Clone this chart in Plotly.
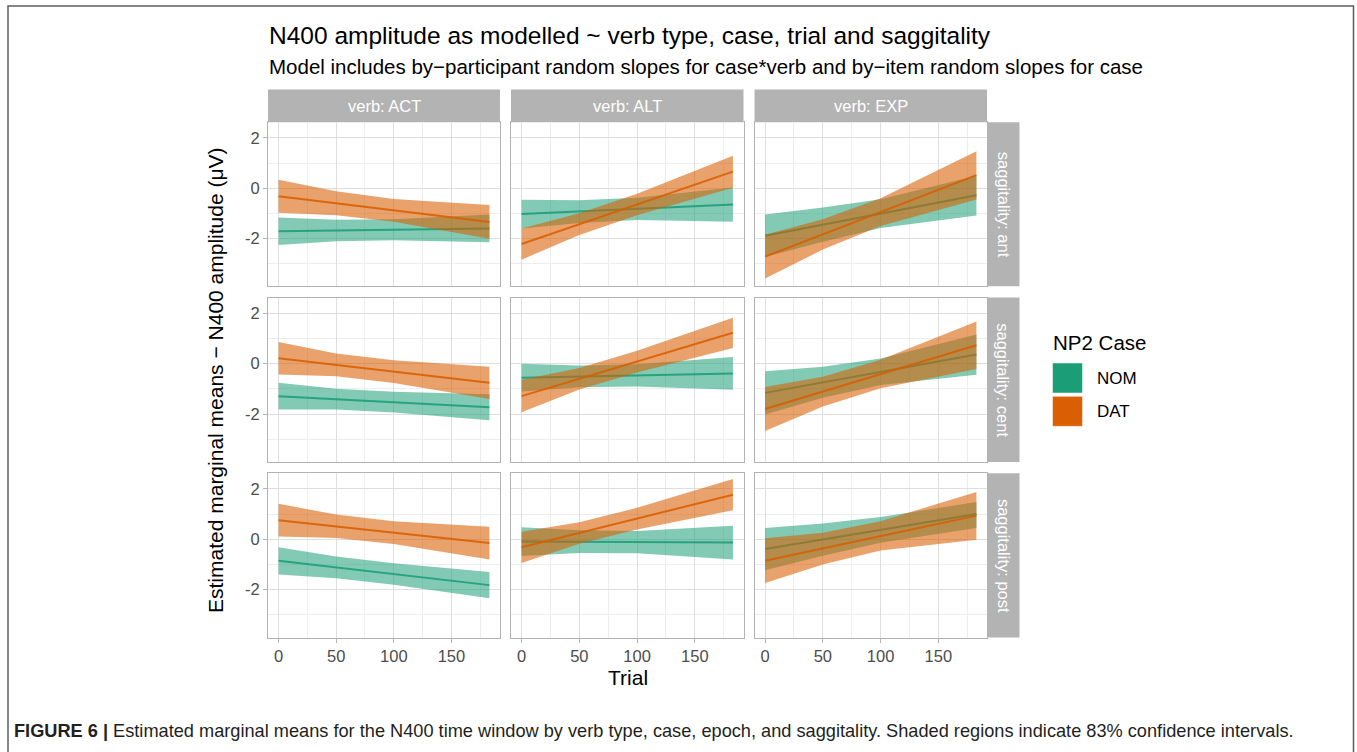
import plotly.graph_objects as go

W, H = 1357, 752

VERBS = ["ACT", "ALT", "EXP"]
SAGG = ["ant", "cent", "post"]
TRIAL = [0, 50, 100, 183]

# panel order: ant(ACT, ALT, EXP), cent(ACT, ALT, EXP), post(ACT, ALT, EXP)
NOM_FIT = [
    [-1.71, -1.68, -1.65, -1.60], [-1.03, -0.93, -0.82, -0.65], [-1.89, -1.45, -1.01, -0.28],
    [-1.29, -1.41, -1.53, -1.73], [-0.56, -0.51, -0.47, -0.39], [-1.16, -0.74, -0.33, 0.36],
    [-0.85, -1.12, -1.38, -1.82], [-0.09, -0.10, -0.11, -0.13], [-0.39, -0.01, 0.37, 1.00],
]
NOM_HI = [
    [-1.16, -1.25, -1.23, -1.05], [-0.46, -0.48, -0.38, 0.03], [-1.05, -0.77, -0.44, 0.50],
    [-0.76, -1.00, -1.12, -1.21], [-0.01, -0.08, -0.03, 0.26], [-0.30, -0.12, 0.20, 1.15],
    [-0.32, -0.68, -0.95, -1.30], [0.48, 0.36, 0.33, 0.54], [0.45, 0.63, 0.88, 1.48],
]
NOM_LO = [
    [-2.26, -2.11, -2.07, -2.15], [-1.60, -1.38, -1.26, -1.33], [-2.73, -2.13, -1.58, -1.09],
    [-1.82, -1.82, -1.94, -2.25], [-1.11, -0.94, -0.91, -1.04], [-2.02, -1.35, -0.85, -0.44],
    [-1.40, -1.55, -1.81, -2.34], [-0.66, -0.54, -0.55, -0.80], [-1.23, -0.65, -0.14, 0.45],
]
DAT_FIT = [
    [-0.32, -0.60, -0.88, -1.34], [-2.22, -1.43, -0.65, 0.66], [-2.72, -1.84, -0.95, 0.52],
    [0.21, -0.06, -0.32, -0.76], [-1.29, -0.60, 0.08, 1.22], [-1.80, -1.11, -0.42, 0.73],
    [0.76, 0.51, 0.26, -0.15], [-0.32, 0.25, 0.82, 1.77], [-0.85, -0.36, 0.13, 0.94],
]
DAT_HI = [
    [0.34, -0.12, -0.43, -0.67], [-1.60, -1.00, -0.22, 1.29], [-1.85, -1.23, -0.40, 1.47],
    [0.86, 0.40, 0.13, -0.12], [-0.64, -0.17, 0.51, 1.82], [-0.93, -0.52, 0.15, 1.67],
    [1.41, 0.98, 0.72, 0.50], [0.30, 0.68, 1.25, 2.39], [0.04, 0.26, 0.72, 1.88],
]
DAT_LO = [
    [-0.98, -1.08, -1.33, -2.01], [-2.84, -1.86, -1.08, 0.02], [-3.59, -2.44, -1.50, -0.45],
    [-0.43, -0.50, -0.77, -1.40], [-1.93, -1.03, -0.35, 0.62], [-2.67, -1.70, -0.98, -0.21],
    [0.11, 0.05, -0.19, -0.80], [-0.94, -0.18, 0.39, 1.15], [-1.74, -1.00, -0.45, -0.02],
]

CASES = ["NOM", "DAT"]
COLORS = {"NOM": "#1B9E77", "DAT": "#D95F02"}
FILLS = {"NOM": "rgba(27,158,119,0.55)", "DAT": "rgba(217,95,2,0.58)"}
SERIES = {"NOM": (NOM_FIT, NOM_LO, NOM_HI), "DAT": (DAT_FIT, DAT_LO, DAT_HI)}

FONT = "Liberation Sans, Arial, Helvetica, sans-serif"

# pixel layout
COL_X = [(268, 500), (511, 743.5), (754.5, 987)]
ROW_Y = [(122.3, 286.3), (297.5, 462), (473.3, 637.5)]


def px(x):
    return x / W


def py(y):
    return 1 - y / H


fig = go.Figure()
layout_axes = {}

for r in range(3):
    for c in range(3):
        k = r * 3 + c
        n = k + 1
        xa = "x" if n == 1 else f"x{n}"
        ya = "y" if n == 1 else f"y{n}"
        for case in CASES:
            fit, lo, hi = SERIES[case]
            fig.add_trace(go.Scatter(
                x=TRIAL + TRIAL[::-1], y=hi[k] + lo[k][::-1],
                fill="toself", fillcolor=FILLS[case], mode="lines",
                line=dict(width=0), hoverinfo="skip", showlegend=False,
                xaxis=xa, yaxis=ya))
            fig.add_trace(go.Scatter(
                x=TRIAL, y=fit[k], mode="lines",
                line=dict(color=COLORS[case], width=2), opacity=0.88,
                showlegend=False, xaxis=xa, yaxis=ya))
        bottom = r == 2
        left = c == 0
        xkey = "xaxis" if n == 1 else f"xaxis{n}"
        ykey = "yaxis" if n == 1 else f"yaxis{n}"
        layout_axes[xkey] = dict(
            domain=[px(COL_X[c][0]), px(COL_X[c][1])], anchor=ya,
            range=[-9.15, 192.15], tickmode="array", tickvals=[0, 50, 100, 150],
            ticktext=["0", "50", "100", "150"],
            showticklabels=bottom, ticks="outside" if bottom else "",
            ticklen=4, tickcolor="#B3B3B3", tickwidth=1,
            tickfont=dict(size=16.5, color="#4D4D4D", family=FONT),
            showgrid=True, gridcolor="#DEDEDE", gridwidth=1,
            minor=dict(tickmode="linear", tick0=25, dtick=50, showgrid=True,
                       gridcolor="#EDEDED", gridwidth=0.6),
            zeroline=False, showline=True, mirror=True,
            linecolor="#B3B3B3", linewidth=1, fixedrange=True)
        layout_axes[ykey] = dict(
            domain=[py(ROW_Y[r][1]), py(ROW_Y[r][0])], anchor=xa,
            range=[-3.9, 2.62], tickmode="array", tickvals=[-2, 0, 2],
            ticktext=["-2", "0", "2"],
            showticklabels=left, ticks="outside" if left else "",
            ticklen=4, tickcolor="#B3B3B3", tickwidth=1,
            tickfont=dict(size=16.5, color="#4D4D4D", family=FONT),
            showgrid=True, gridcolor="#DEDEDE", gridwidth=1,
            minor=dict(tickmode="linear", tick0=-3, dtick=2, showgrid=True,
                       gridcolor="#EDEDED", gridwidth=0.6),
            zeroline=False, showline=True, mirror=True,
            linecolor="#B3B3B3", linewidth=1, fixedrange=True)

shapes = []
annotations = []

# strips
for c, v in enumerate(VERBS):
    x0, x1 = COL_X[c]
    shapes.append(dict(type="rect", xref="paper", yref="paper",
                       x0=px(x0), x1=px(x1), y0=py(122.3), y1=py(89.5),
                       fillcolor="#B3B3B3", line=dict(width=0), layer="below"))
    annotations.append(dict(text=f"verb: {v}", x=px((x0 + x1) / 2), y=py(105.5),
                            xref="paper", yref="paper", showarrow=False,
                            xanchor="center", yanchor="middle",
                            font=dict(size=16.5, color="white", family=FONT)))
for r, s in enumerate(SAGG):
    y0, y1 = ROW_Y[r]
    shapes.append(dict(type="rect", xref="paper", yref="paper",
                       x0=px(987.5), x1=px(1019.5), y0=py(y1), y1=py(y0),
                       fillcolor="#B3B3B3", line=dict(width=0), layer="below"))
    annotations.append(dict(text=f"saggitality: {s}", x=px(1003.5), y=py((y0 + y1) / 2),
                            xref="paper", yref="paper", showarrow=False, textangle=90,
                            xanchor="center", yanchor="middle",
                            font=dict(size=16.5, color="white", family=FONT)))

# outer frame
shapes.append(dict(type="path", xref="paper", yref="paper",
                   path=f"M {px(8)} {py(760)} L {px(8)} {py(6)} L {px(1353.5)} {py(6)} L {px(1353.5)} {py(760)}",
                   line=dict(color="#5E5E5E", width=1.5)))

# titles
annotations.append(dict(text="N400 amplitude as modelled ~ verb type, case, trial and saggitality",
                        x=px(267), y=py(35), xref="paper", yref="paper", showarrow=False,
                        xanchor="left", yanchor="middle",
                        font=dict(size=24.5, color="black", family=FONT)))
annotations.append(dict(text="Model includes by\u2212participant random slopes for case*verb and by\u2212item random slopes for case",
                        x=px(267), y=py(67), xref="paper", yref="paper", showarrow=False,
                        xanchor="left", yanchor="middle",
                        font=dict(size=20.5, color="black", family=FONT)))
annotations.append(dict(text="Trial", x=px(627.5), y=py(677), xref="paper", yref="paper",
                        showarrow=False, xanchor="center", yanchor="middle",
                        font=dict(size=21, color="black", family=FONT)))
annotations.append(dict(text="Estimated marginal means \u2212 N400 amplitude (\u03bcV)",
                        x=px(215), y=py(380), xref="paper", yref="paper", textangle=-90,
                        showarrow=False, xanchor="center", yanchor="middle",
                        font=dict(size=21, color="black", family=FONT)))

# legend (drawn manually)
annotations.append(dict(text="NP2 Case", x=px(1051), y=py(342), xref="paper", yref="paper",
                        showarrow=False, xanchor="left", yanchor="middle",
                        font=dict(size=20.5, color="black", family=FONT)))
for i, case in enumerate(CASES):
    yt = 363 + i * 33.3
    shapes.append(dict(type="rect", xref="paper", yref="paper",
                       x0=px(1052.5), x1=px(1082.5), y0=py(yt + 30), y1=py(yt),
                       fillcolor=COLORS[case], line=dict(color="rgba(255,255,255,0.5)", width=1)))
    annotations.append(dict(text=case, x=px(1095), y=py(yt + 15.5), xref="paper", yref="paper",
                            showarrow=False, xanchor="left", yanchor="middle",
                            font=dict(size=17, color="black", family=FONT)))

# caption
annotations.append(dict(
    text="<b>FIGURE 6 |</b> Estimated marginal means for the N400 time window by verb type, case, epoch, and saggitality. Shaded regions indicate 83% confidence intervals.",
    x=px(12), y=py(731), xref="paper", yref="paper", showarrow=False,
    xanchor="left", yanchor="middle",
    font=dict(size=18.2, color="#231F20", family=FONT)))

fig.update_layout(
    width=W, height=H, margin=dict(l=0, r=0, t=0, b=0),
    paper_bgcolor="white", plot_bgcolor="white",
    showlegend=False, shapes=shapes, annotations=annotations,
    **layout_axes)

fig.write_html("out.html", include_plotlyjs=True, config={"displayModeBar": False})
